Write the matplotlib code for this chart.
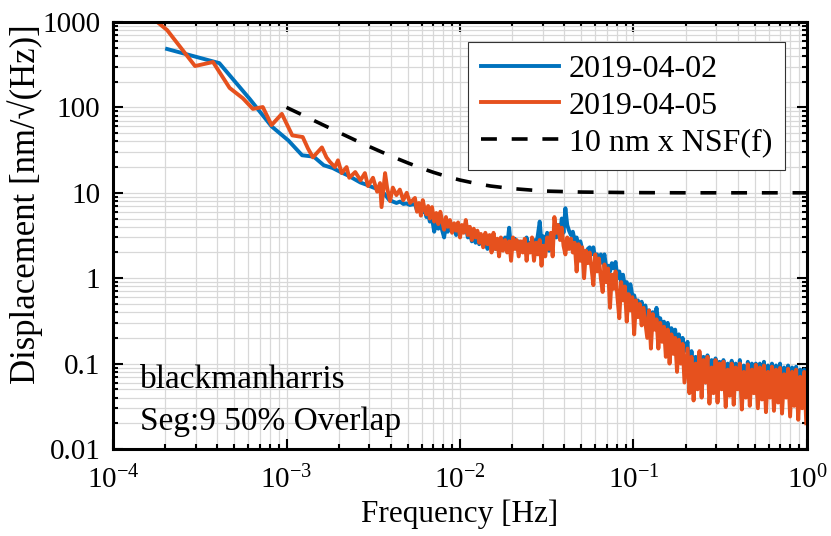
import matplotlib.pyplot as plt
from matplotlib.ticker import LogLocator, NullFormatter

# displacement spectra, 2019-04-02 (coarse bins at low frequency)
blue_f_lo = [2.05e-4, 4.1e-4, 6.15e-4, 8.2e-4, 1.025e-3, 1.23e-3, 1.435e-3, 1.64e-3,
             1.845e-3, 2.05e-3, 2.255e-3, 2.46e-3, 2.665e-3, 2.87e-3, 3.075e-3, 3.28e-3,
             3.485e-3, 3.69e-3, 3.895e-3, 4.1e-3, 4.305e-3, 4.51e-3, 4.715e-3, 4.92e-3, 5.125e-3]
blue_y_lo = [483, 330, 125, 60, 41, 27.5, 26.5, 21, 19.5, 17.5, 16, 14.5, 13.2, 12.5, 11.8, 11.2,
             10.8, 9.6, 8.3, 7.9, 7.6, 7.9, 7.4, 7.5, 7.2]

# 2019-04-05 record, low frequency part
orange_f_lo = [1.7e-4, 2.05e-4, 2.97e-4, 3.77e-4, 4.7e-4, 5.6e-4, 6.4e-4, 7.3e-4, 8.2e-4, 9.4e-4,
               1.08e-3, 1.24e-3, 1.33e-3, 1.42e-3, 1.6e-3, 1.7e-3, 1.78e-3, 1.9e-3,
               1.98e-3, 2.08e-3, 2.22e-3, 2.30e-3, 2.49e-3, 2.67e-3, 2.83e-3, 2.95e-3, 3.15e-3,
               3.33e-3, 3.46e-3, 3.53e-3, 3.7e-3, 3.8e-3, 3.95e-3, 4.1e-3, 4.3e-3,
               4.5e-3, 4.71e-3, 4.93e-3, 5.15e-3]
orange_y_lo = [1100, 805, 305, 340, 169, 128, 96, 101, 62, 84,
               47, 45, 33, 26, 34, 26, 23, 20,
               24, 17, 20, 15, 17.5, 14, 17, 12, 15,
               10.3, 13, 6.8, 17, 11.5, 8.0, 11.5, 9.4,
               10.9, 8.2, 10, 7.6]

# common frequency grid from 5.5 mHz up, in mHz
freq_hi_mhz = [5.5, 5.65, 5.8, 5.95, 6.1, 6.25, 6.4, 6.55, 6.7, 6.9,
               7.1, 7.3, 7.5, 7.7, 7.9, 8.1, 8.3, 8.5, 8.75, 9.0, 9.25, 9.5, 9.75,
               10.0, 10.25, 10.5, 10.8, 11.1, 11.4, 11.7, 12.0, 12.3, 12.6,
               12.9, 13.2, 13.6, 14.0, 14.4, 14.8, 15.2, 15.6, 16.0, 16.4,
               16.8, 17.2, 17.7, 18.2, 18.7, 19.2, 19.7,
               20.2, 20.7, 21.2, 21.8, 22.4, 23.0, 23.6, 24.2, 24.8, 25.4,
               26.0, 26.7, 27.4, 28.1, 28.8, 29.5, 30.2, 31.0, 31.8, 32.6,
               33.4, 34.2, 35.0, 35.9, 36.8, 37.7, 38.6, 39.5,
               40.5, 41.5, 42.5, 43.6, 44.7, 45.8, 47.0, 48.2, 49.4, 50.6,
               51.9, 53.2, 54.5, 55.9, 57.3, 58.7, 60.2, 61.7, 63.2, 64.8,
               66.4, 68.0, 69.7, 71.4, 73.2, 75.0, 76.9, 78.8, 80.8, 82.8,
               84.9, 87.0, 89.2, 91.4, 93.7, 96.0, 98.4,
               100.9, 103.4, 106, 108.7, 111.4, 114.2, 117, 120, 123, 126,
               129.2, 132.4, 135.7, 139.1, 142.6, 146.2, 149.9, 153.6, 157.5, 161.4,
               165.4, 169.6, 173.8, 178.2, 182.6, 187.2, 191.9, 196.7,
               205, 210, 216, 222, 228, 234, 240, 247, 253, 260,
               267, 274, 282, 289, 297, 305, 313, 322, 330, 340,
               349, 358, 368, 378, 388, 399, 410, 421, 432, 444,
               456, 468, 481, 494, 507, 521, 535, 550, 565, 580,
               596, 612, 628, 645, 663, 681, 699, 718, 738, 758,
               778, 799, 821, 843, 866, 890, 914, 938, 964, 990]

blue_y_hi = [7.4, 6.2, 7.0, 5.8, 6.0, 6.4, 5.2, 5.6, 4.6, 5.0,
             3.5, 4.6, 3.8, 4.6, 3.6, 3.0, 4.2, 3.5, 4.0, 3.8, 4.0, 3.2, 3.8,
             3.4, 4.0, 3.5, 4.0, 3.0, 3.5, 2.7, 3.3, 2.6, 3.1,
             2.5, 3.0, 2.4, 3.0, 2.2, 2.8, 2.3, 3.0, 2.2, 2.7,
             2.1, 2.8, 2.3, 3.0, 2.4, 3.9, 2.2,
             2.5, 2.9, 2.2, 2.7, 2.1, 2.6, 2.2, 3.0, 2.3, 2.6,
             2.1, 2.8, 2.4, 3.2, 4.6, 2.6, 3.1, 2.4, 3.4, 2.1,
             3.0, 2.5, 4.0, 3.0, 4.2, 3.3, 5.0, 3.4,
             6.6, 4.2, 3.6, 3.2, 3.5, 2.8, 3.0, 2.4, 2.7, 2.2,
             2.0, 1.8, 2.2, 2.3, 1.9, 2.3, 1.7, 1.9, 1.6, 1.9,
             1.5, 1.9, 1.3, 1.4, 1.2, 1.5, 1.3, 1.55, 1.0, 1.2,
             0.9, 1.1, 0.8, 0.9, 0.7, 0.85, 0.63,
             0.63, 0.5, 0.55, 0.4, 0.53, 0.38, 0.48, 0.35, 0.42, 0.3,
             0.4, 0.32, 0.45, 0.3, 0.34, 0.25, 0.31, 0.22, 0.3, 0.2,
             0.26, 0.18, 0.25, 0.16, 0.22, 0.15, 0.2, 0.14,
             0.18, 0.06, 0.14, 0.05, 0.12, 0.07, 0.13, 0.05, 0.12, 0.06,
             0.125, 0.045, 0.11, 0.06, 0.115, 0.05, 0.105, 0.055, 0.11, 0.045,
             0.1, 0.05, 0.108, 0.045, 0.1, 0.06, 0.11, 0.04, 0.095, 0.05,
             0.105, 0.045, 0.1, 0.05, 0.1, 0.04, 0.1, 0.05, 0.105, 0.04,
             0.095, 0.05, 0.1, 0.04, 0.095, 0.045, 0.1, 0.038, 0.09, 0.05,
             0.095, 0.035, 0.09, 0.045, 0.092, 0.035, 0.085, 0.04, 0.085, 0.035]

orange_y_hi = [8.7, 6.0, 7.6, 5.4, 8.2, 6.5, 5.6, 7.0, 5.0, 6.8,
               4.6, 5.8, 4.3, 6.0, 4.6, 3.7, 5.2, 4.0, 4.8, 3.4, 4.4, 3.6, 4.5,
               3.0, 4.2, 3.4, 4.8, 3.2, 4.0, 2.8, 3.8, 3.0, 3.6,
               2.6, 3.3, 2.3, 3.4, 2.5, 3.2, 2.0, 3.4, 2.2, 2.9,
               1.8, 3.0, 2.1, 2.8, 2.0, 2.7, 1.6,
               3.0, 2.2, 2.8, 1.8, 2.7, 2.0, 2.9, 1.6, 2.5, 2.0,
               3.0, 1.6, 2.6, 1.9, 2.8, 1.4, 2.4, 1.8, 3.0, 2.2,
               3.4, 1.8, 5.2, 3.4, 4.2, 2.8, 3.9, 2.4,
               1.9, 3.0, 2.2, 2.9, 2.0, 2.6, 1.2, 2.5, 1.6, 2.3,
               1.0, 2.1, 1.5, 2.0, 1.3, 0.83, 1.9, 1.2, 1.7, 1.0,
               0.69, 1.45, 0.9, 1.3, 0.45, 1.1, 0.75, 1.2, 0.6, 0.34,
               0.9, 0.55, 0.8, 0.31, 0.65, 0.42, 0.6,
               0.22, 0.55, 0.35, 0.5, 0.28, 0.45, 0.3, 0.2, 0.42, 0.15,
               0.38, 0.25, 0.33, 0.15, 0.3, 0.18, 0.27, 0.12, 0.25, 0.1,
               0.22, 0.13, 0.2, 0.08, 0.19, 0.1, 0.17, 0.06,
               0.15, 0.045, 0.12, 0.037, 0.1, 0.05, 0.14, 0.04, 0.11, 0.06,
               0.12, 0.034, 0.09, 0.045, 0.11, 0.035, 0.1, 0.05, 0.105, 0.031,
               0.085, 0.042, 0.1, 0.033, 0.09, 0.05, 0.1, 0.029, 0.08, 0.04,
               0.098, 0.032, 0.085, 0.045, 0.097, 0.03, 0.09, 0.038, 0.095, 0.027,
               0.08, 0.04, 0.092, 0.028, 0.085, 0.035, 0.089, 0.026, 0.075, 0.04,
               0.087, 0.024, 0.08, 0.032, 0.085, 0.022, 0.07, 0.03, 0.08, 0.02]

freq_hi = [v / 1000 for v in freq_hi_mhz]

# 10 nm x noise shape function
nsf_f = [1e-3, 1.25e-3, 1.5e-3, 2e-3, 2.5e-3, 3e-3, 4e-3, 5e-3, 6e-3, 7e-3, 8.5e-3,
         1e-2, 1.25e-2, 1.5e-2, 2e-2, 3e-2, 5e-2, 0.1, 0.2, 1.0]
nsf_y = [100, 80.6, 67.4, 51, 41.2, 34.8, 26.9, 22.4, 19.4, 17.4, 15.4,
         14.1, 12.8, 12.0, 11.2, 10.5, 10.2, 10.05, 10.0, 10.0]

xtick_vals = [1e-4, 1e-3, 1e-2, 1e-1, 1]
xtick_text = ['$10^{-4}$', '$10^{-3}$', '$10^{-2}$', '$10^{-1}$', '$10^{0}$']
ytick_vals = [0.01, 0.1, 1, 10, 100, 1000]
ytick_text = ['0.01', '0.1', '1', '10', '100', '1000']

plt.rcParams['font.family'] = ['Liberation Serif', 'DejaVu Serif']
plt.rcParams['mathtext.fontset'] = 'custom'
plt.rcParams['mathtext.rm'] = 'Liberation Serif'
plt.rcParams['mathtext.default'] = 'regular'

fig = plt.figure(figsize=(8.31, 5.36), dpi=100)
ax = fig.add_axes([113 / 831, 87 / 536, 694 / 831, 427 / 536])

ax.plot(blue_f_lo + freq_hi, blue_y_lo + blue_y_hi, color='#0072BD', lw=2.8, label='2019-04-02')
ax.plot(orange_f_lo + freq_hi, orange_y_lo + orange_y_hi, color='#E6511E', lw=2.8, label='2019-04-05')
ax.plot(nsf_f, nsf_y, color='black', lw=2.6, ls=(0, (4.4, 4.1)), label='10 nm x NSF(f)')

ax.set_xscale('log')
ax.set_yscale('log')
ax.set_xlim(1e-4, 1)
ax.set_ylim(0.01, 1000)
ax.set_xticks(xtick_vals, xtick_text)
ax.set_yticks(ytick_vals, ytick_text)
ax.xaxis.set_minor_locator(LogLocator(base=10, subs=range(2, 10), numticks=20))
ax.yaxis.set_minor_locator(LogLocator(base=10, subs=range(2, 10), numticks=20))
ax.xaxis.set_minor_formatter(NullFormatter())
ax.yaxis.set_minor_formatter(NullFormatter())

ax.grid(which='both', color='#d8d8d8', lw=0.9)
ax.set_axisbelow(True)
ax.tick_params(which='both', direction='in', top=True, right=True, width=1.5)
ax.tick_params(which='major', length=7, labelsize=21)
ax.tick_params(axis='x', which='major', pad=12)
ax.tick_params(axis='y', which='major', pad=9)
ax.tick_params(which='minor', length=3.5)
for s in ax.spines.values():
    s.set_linewidth(2.2)

ax.set_xlabel('Frequency [Hz]', fontsize=22.5)
ax.xaxis.set_label_coords(0.5, -0.119)
ax.set_ylabel('Displacement [nm/√(Hz)]', fontsize=25)
ax.yaxis.set_label_coords(-0.101, 0.574)

ax.text(0.039, 0.142, 'blackmanharris', transform=ax.transAxes, fontsize=24, va='baseline')
ax.text(0.039, 0.045, 'Seg:9 50% Overlap', transform=ax.transAxes, fontsize=24, va='baseline')

leg = ax.legend(loc='upper right', bbox_to_anchor=(0.968, 0.953), borderaxespad=0,
                fontsize=23, handlelength=2.45, handletextpad=0.3, labelspacing=0.22,
                borderpad=0.4, fancybox=False, framealpha=1)
leg.get_frame().set_edgecolor('#333333')
leg.get_frame().set_linewidth(0.8)

fig.savefig('out.png', dpi=100)
